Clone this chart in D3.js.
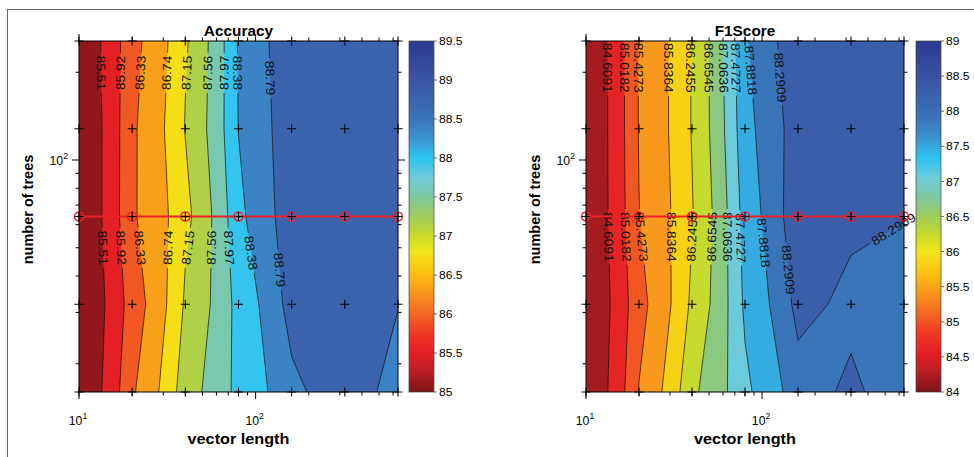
<!DOCTYPE html>
<html>
<head>
<meta charset="utf-8">
<script src="https://cdn.jsdelivr.net/npm/d3@7"></script>
<style>
body { margin: 0; background: #fff; }
text { font-family: "Liberation Sans", Arial, Helvetica, sans-serif; fill: #000; }
</style>
</head>
<body>
<svg width="974" height="457"></svg>
<script>
// grid of the experiment
var vectorLength = [10, 20, 40, 80, 160, 320, 640],
    numTrees = [16, 32, 64, 128, 256];

// rows go from 16 trees (first) to 256 trees (last)
var accuracy = [
  [85.10, 86.28, 87.39, 88.10, 88.70, 89.11, 88.49],
  [85.10, 86.12, 87.21, 88.12, 88.98, 89.05, 88.82],
  [85.10, 86.28, 87.04, 88.30, 89.10, 89.15, 89.20],
  [85.10, 86.27, 87.17, 88.39, 89.12, 89.20, 89.18],
  [85.17, 86.21, 87.10, 88.42, 89.18, 89.20, 89.15]
];
var f1score = [
  [84.20, 85.44, 86.58, 87.40, 88.15, 88.375, 87.95],
  [84.20, 85.30, 86.33, 87.55, 88.43, 88.14, 88.00],
  [84.20, 85.42, 86.22, 87.65, 88.63, 88.46, 88.32],
  [84.20, 85.45, 86.27, 87.77, 88.55, 88.65, 88.60],
  [84.20, 85.45, 86.27, 87.84, 88.69, 88.70, 88.68]
];

var accLevels = [85.51, 85.92, 86.33, 86.74, 87.15, 87.56, 87.97, 88.38, 88.79];
var f1Levels = [84.6091, 85.0182, 85.4273, 85.8364, 86.2455, 86.6545, 87.0636, 87.4727, 87.8818, 88.2909];

// [level index, number of trees, (vector length hint)]
var accLabelAt = [
  [0, 199], [1, 199], [2, 199], [3, 199], [4, 199], [5, 199], [6, 199], [7, 199], [8, 191],
  [0, 50], [1, 50], [2, 50], [3, 50], [4, 50], [5, 50], [6, 50], [7, 48], [8, 42]
];
var f1LabelAt = [
  [0, 207], [1, 207], [2, 207], [3, 207], [4, 207], [5, 207], [6, 207], [7, 207], [8, 203], [9, 192],
  [0, 54.5], [1, 54.5], [2, 54.5], [3, 54.5], [4, 54.5], [5, 54.5], [6, 54.5], [7, 54], [8, 52], [9, 42],
  [9, 58, 540]
];

var accTicks = [85, 85.5, 86, 86.5, 87, 87.5, 88, 88.5, 89, 89.5];
var f1Ticks = [84, 84.5, 85, 85.5, 86, 86.5, 87, 87.5, 88, 88.5, 89];

var xMajor = [10, 100], xMinor = [20, 30, 40, 50, 60, 70, 80, 90, 200, 300, 400, 500, 600];
var yMajor = [100], yMinor = [20, 30, 40, 50, 60, 70, 80, 90, 200];

var highlightTrees = 64;

// colormap sampled off the colorbar (0 = bottom, 1 = top)
var cmapPos = [0, .055, .11, .17, .22, .28, .33, .40, .445, .50, .555, .61, .667, .72, .78, .89, 1];
var cmapHex = ["#7a1416", "#b51f24", "#e31e26", "#ee3a24", "#f26522", "#f7941d", "#fdba12", "#f2e61a",
               "#c9da2a", "#9fcb5a", "#7cc8a0", "#6fcbd9", "#2bc4f2", "#3d95d3", "#3a73b8", "#3b55a5", "#2a3a8f"];

var svg = d3.select("svg"),
    plotTop = 41,
    plotBottom = 392;

svg.append("rect").attr("width", 974).attr("height", 457).attr("fill", "#fff");
svg.append("rect") // figure frame
    .attr("x", 7.5).attr("y", 9.5).attr("width", 1000).attr("height", 500)
    .attr("fill", "none").attr("stroke", "#666").attr("stroke-width", 1);

var defs = svg.append("defs");
var grad = defs.append("linearGradient").attr("id", "cbar")
    .attr("x1", 0).attr("y1", 1).attr("x2", 0).attr("y2", 0);
cmapPos.forEach(function(p, i) {
  grad.append("stop").attr("offset", p).attr("stop-color", cmapHex[i]);
});

// the source figure's font runs a little wide, so stretch text along its baseline
function label(parent, px, py, ang, size, stretch, str) {
  return parent.append("text")
      .attr("transform", "translate(" + px + "," + py + ") rotate(" + ang + ") scale(" + stretch + ",1)")
      .style("font-size", size + "px")
      .text(str);
}

var panels = [
  {z: accuracy, levels: accLevels, labels: accLabelAt, left: 79, right: 398,
   cdomain: [85, 89.5], cticks: accTicks, cbar: 409, title: "Accuracy", id: "a"},
  {z: f1score, levels: f1Levels, labels: f1LabelAt, left: 586, right: 904,
   cdomain: [84, 89], cticks: f1Ticks, cbar: 916, title: "F1Score", id: "f"}
];
panels.forEach(drawPanel);

function drawPanel(cfg) {
  var n = vectorLength.length, m = numTrees.length;
  var x = d3.scaleLog().domain(d3.extent(vectorLength)).range([cfg.left, cfg.right]),
      y = d3.scaleLog().domain(d3.extent(numTrees)).range([plotBottom, plotTop]);
  var values = [].concat.apply([], cfg.z);
  var cs = d3.scaleLinear()
      .domain(cmapPos.map(function(p) { return cfg.cdomain[0] + p * (cfg.cdomain[1] - cfg.cdomain[0]); }))
      .range(cmapHex).clamp(true);

  // contour grid coordinate -> index position, clamped to the sample hull
  function idx(c, len) { return Math.max(0, Math.min(len - 1, c - 0.5)); }
  // index position -> data value (linear in data space, like contourf)
  function lerp(arr, t) {
    var k = Math.min(arr.length - 2, Math.floor(t)), f = t - k;
    return arr[k] + f * (arr[k + 1] - arr[k]);
  }
  function project(p) {
    return [x(lerp(vectorLength, idx(p[0], n))), y(lerp(numTrees, idx(p[1], m)))];
  }

  var contours = d3.contours().size([n, m]).thresholds(cfg.levels)(values);

  var g = svg.append("g");
  g.append("rect")
      .attr("x", cfg.left).attr("y", plotTop)
      .attr("width", cfg.right - cfg.left).attr("height", plotBottom - plotTop)
      .attr("fill", cs(d3.min(values)));

  g.selectAll("path.band").data(contours).join("path")
      .attr("class", "band")
      .attr("fill-rule", "evenodd")
      .attr("fill", function(d) { return cs(d.value); })
      .attr("d", function(d) {
        return d.coordinates.map(function(poly) {
          return poly.map(function(ring) {
            return "M" + ring.map(project).join("L") + "Z";
          }).join("");
        }).join("");
      });

  // interior contour segments only (drop the bits along the box)
  var segsByLevel = contours.map(function(c) {
    var segs = [];
    c.coordinates.forEach(function(poly) {
      poly.forEach(function(ring) {
        for (var i = 0; i < ring.length - 1; i++) {
          var a = ring[i], b = ring[i + 1];
          var ax = idx(a[0], n), bx = idx(b[0], n), ay = idx(a[1], m), by = idx(b[1], m);
          if ((ax === 0 && bx === 0) || (ax === n - 1 && bx === n - 1) ||
              (ay === 0 && by === 0) || (ay === m - 1 && by === m - 1)) continue;
          segs.push([project(a), project(b)]);
        }
      });
    });
    return segs;
  });

  var mask = defs.append("mask").attr("id", "gap" + cfg.id).attr("maskUnits", "userSpaceOnUse")
      .attr("x", 0).attr("y", 0).attr("width", 974).attr("height", 457);
  mask.append("rect").attr("width", 974).attr("height", 457).attr("fill", "#fff");

  var lines = g.append("g").attr("mask", "url(#gap" + cfg.id + ")");
  segsByLevel.forEach(function(segs) {
    lines.append("path")
        .attr("fill", "none").attr("stroke", "#111").attr("stroke-width", 0.7)
        .attr("d", segs.map(function(s) { return "M" + s[0] + "L" + s[1]; }).join(""));
  });

  // contour labels
  var labelG = svg.append("g").attr("text-anchor", "middle");
  cfg.labels.forEach(function(spec) {
    var segs = segsByLevel[spec[0]], py = y(spec[1]), hx = spec.length > 2 ? x(spec[2]) : null;
    var hits = [];
    segs.forEach(function(s) {
      var a = s[0], b = s[1];
      if (a[1] !== b[1] && (a[1] - py) * (b[1] - py) <= 0) {
        var f = (py - a[1]) / (b[1] - a[1]);
        hits.push({x: a[0] + f * (b[0] - a[0]), s: s});
      }
    });
    if (!hits.length) return;
    var h = hx == null ? d3.least(hits, function(d) { return d.x; })
                       : d3.least(hits, function(d) { return Math.abs(d.x - hx); });
    var ang = Math.atan2(h.s[1][1] - h.s[0][1], h.s[1][0] - h.s[0][0]) * 180 / Math.PI;
    if (ang > 90) ang -= 180;
    if (ang <= -90) ang += 180;
    var t = label(labelG, h.x, py, ang, 12.5, 1.1, String(cfg.levels[spec[0]]))
        .attr("dy", "0.36em").style("fill", "#111");
    var w = t.node().getComputedTextLength() * 1.1 + 6;
    mask.append("rect")
        .attr("x", -w / 2).attr("y", -6.5).attr("width", w).attr("height", 13)
        .attr("transform", "translate(" + h.x + "," + py + ") rotate(" + ang + ")")
        .attr("fill", "#000");
  });

  // highlighted row
  var red = svg.append("g");
  red.append("line")
      .attr("x1", x(vectorLength[0])).attr("x2", x(vectorLength[n - 1]))
      .attr("y1", y(highlightTrees)).attr("y2", y(highlightTrees))
      .attr("stroke", "#ec2227").attr("stroke-width", 2);
  red.selectAll("circle").data(vectorLength).join("circle")
      .attr("cx", function(d) { return x(d); }).attr("cy", y(highlightTrees)).attr("r", 4.5)
      .attr("fill", "none").attr("stroke", "#ec2227").attr("stroke-width", 1.5);

  // grid markers
  var pts = [];
  numTrees.forEach(function(t) { vectorLength.forEach(function(v) { pts.push([v, t]); }); });
  svg.append("path")
      .attr("fill", "none").attr("stroke", "#000").attr("stroke-width", 1.1)
      .attr("d", pts.map(function(p) {
        var px = x(p[0]), py = y(p[1]);
        return "M" + (px - 4.5) + "," + py + "H" + (px + 4.5) + "M" + px + "," + (py - 4.5) + "V" + (py + 4.5);
      }).join(""));

  // axes box and outward ticks
  var ax = svg.append("g").attr("stroke", "#000").attr("fill", "none");
  ax.append("rect")
      .attr("x", cfg.left).attr("y", plotTop)
      .attr("width", cfg.right - cfg.left).attr("height", plotBottom - plotTop)
      .attr("stroke-width", 1);
  var tk = [];
  xMajor.concat(xMinor).forEach(function(v) {
    var L = xMajor.indexOf(v) >= 0 ? 7 : 3.5, px = x(v);
    tk.push("M" + px + "," + plotBottom + "v" + L, "M" + px + "," + plotTop + "v" + (-L));
  });
  yMajor.concat(yMinor).forEach(function(v) {
    var L = yMajor.indexOf(v) >= 0 ? 7 : 3.5, py = y(v);
    tk.push("M" + cfg.left + "," + py + "h" + (-L), "M" + cfg.right + "," + py + "h" + L);
  });
  ax.append("path").attr("stroke-width", 1).attr("d", tk.join(""));

  // tick labels
  function pow10(t, v) {
    t.append("tspan").text("10");
    t.append("tspan").attr("dy", -6).style("font-size", "8.5px").text(Math.round(Math.log10(v)));
  }
  xMajor.forEach(function(v) {
    pow10(label(svg, x(v) - 1, 425, 0, 12, 1.02, "").attr("text-anchor", "middle"), v);
  });
  yMajor.forEach(function(v) {
    pow10(label(svg, cfg.left - 11, y(v) + 5, 0, 12, 1.02, "").attr("text-anchor", "end"), v);
  });

  var cx = (cfg.left + cfg.right) / 2;
  label(svg, cx, 36, 0, 14, 1.1, cfg.title)
      .attr("text-anchor", "middle").style("font-weight", "bold");
  label(svg, cx, 444, 0, 14.5, 1.12, "vector length")
      .attr("text-anchor", "middle").style("font-weight", "bold");
  label(svg, cfg.left - 46, (plotTop + plotBottom) / 2 - 7, -90, 14.5, 1.0, "number of trees")
      .attr("text-anchor", "middle").style("font-weight", "bold");

  // colorbar
  var cy = d3.scaleLinear().domain(cfg.cdomain).range([plotBottom, plotTop]);
  var cb = svg.append("g");
  cb.append("rect")
      .attr("x", cfg.cbar).attr("y", plotTop).attr("width", 25).attr("height", plotBottom - plotTop)
      .attr("fill", "url(#cbar)").attr("stroke", "#444").attr("stroke-width", 0.7);
  cb.append("path").attr("stroke", "#444").attr("stroke-width", 0.8)
      .attr("d", cfg.cticks.map(function(v) { return "M" + (cfg.cbar + 25) + "," + cy(v) + "h3"; }).join(""));
  cfg.cticks.forEach(function(v) {
    label(cb, cfg.cbar + 30, cy(v), 0, 11.5, 1.05, String(v)).attr("dy", "0.36em");
  });
}
</script>
</body>
</html>
